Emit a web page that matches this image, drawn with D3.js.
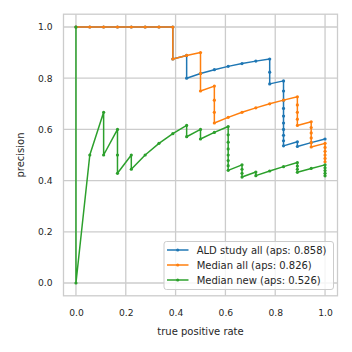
<!DOCTYPE html>
<html><head><meta charset="utf-8">
<script src="https://cdn.jsdelivr.net/npm/d3@7"></script>
<style>body{margin:0;background:#fff}svg{display:block}text{font-family:"DejaVu Sans",sans-serif;fill:#262626}</style>
</head><body>
<script>
const xTicks = [0, 0.2, 0.4, 0.6, 0.8, 1.0];
const yTicks = [0, 0.2, 0.4, 0.6, 0.8, 1.0];
const seriesNames = ["ALD study all (aps: 0.858)", "Median all (aps: 0.826)", "Median new (aps: 0.526)"];
const seriesColors = ["#1f77b4", "#ff7f0e", "#2ca02c"];

const aldRecall = [0,0.0556,0.1111,0.1667,0.2222,0.2778,0.3333,0.3889,0.3889,0.4444,0.4444,0.5,0.5556,0.6111,0.6667,0.7222,0.7778,0.7778,0.7778,
  0.8333,0.8333,0.8333,0.8333,0.8333,0.8333,0.8333,0.8333,0.8333,0.8333,0.8889,0.8889,0.9444,1.0];
const aldPrecision = [1,1,1,1,1,1,1,1,0.875,0.8889,0.8,0.8182,0.8333,0.8462,0.8571,0.8667,0.875,0.8235,0.7778,
  0.7895,0.75,0.7143,0.6818,0.6522,0.625,0.6,0.5769,0.5556,0.5357,0.5517,0.5333,0.5484,0.5625];

const medAllRecall = [0,0.0556,0.1111,0.1667,0.2222,0.2778,0.3333,0.3889,0.3889,0.4444,0.5,0.5,0.5,
  0.5556,0.5556,0.5556,0.5556,0.6111,0.6667,0.7222,0.7778,0.8333,
  0.8889,0.8889,0.8889,0.8889,0.8889,0.9444,0.9444,0.9444,0.9444,0.9444,0.9444,1,1,1,1,1,1];
const medAllPrecision = [1,1,1,1,1,1,1,1,0.875,0.8889,0.9,0.8182,0.75,
  0.7692,0.7143,0.6667,0.625,0.6471,0.6667,0.6842,0.7,0.7143,
  0.7273,0.6957,0.6667,0.64,0.6154,0.6296,0.6071,0.5862,0.5667,0.5484,0.5313,0.5455,0.5294,0.5143,0.5,0.4865,0.4737];

const medNewRecall = [0,0,0.0556,0.1111,0.1111,0.1667,0.1667,0.1667,0.2222,0.2222,0.2778,0.3333,0.3889,0.4444,0.4444,0.5,0.5,0.5556,
  0.6111,0.6111,0.6111,0.6111,0.6111,0.6111,0.6111,0.6111,0.6667,0.6667,0.6667,0.6667,0.7222,0.7222,0.7778,0.8333,
  0.8889,0.8889,0.8889,0.8889,0.9444,1,1,1,1,1];
const medNewPrecision = [1,0,0.5,0.6667,0.5,0.6,0.5,0.4286,0.5,0.4444,0.5,0.5455,0.5833,0.6154,0.5714,0.6,0.5625,0.5882,
  0.6111,0.5789,0.55,0.5238,0.5,0.4783,0.4583,0.44,0.4615,0.4444,0.4286,0.4138,0.4333,0.4194,0.4375,0.4545,
  0.4706,0.4571,0.4444,0.4324,0.4474,0.4615,0.45,0.439,0.4286,0.4186];

const series = [
  {name: seriesNames[0], color: seriesColors[0], x: aldRecall, y: aldPrecision},
  {name: seriesNames[1], color: seriesColors[1], x: medAllRecall, y: medAllPrecision},
  {name: seriesNames[2], color: seriesColors[2], x: medNewRecall, y: medNewPrecision}
];

const W = 352, H = 352;
const L = 63.5, R = 337.5, T = 14.2, B = 295.8;
const svg = d3.select("body").append("svg").attr("width", W).attr("height", H);
const x = d3.scaleLinear().domain([-0.05, 1.05]).range([L, R]);
const y = d3.scaleLinear().domain([-0.05, 1.05]).range([B, T]);

// grid
const grid = svg.append("g");
grid.selectAll("line.gx").data(xTicks).join("line")
  .attr("x1", d => x(d)).attr("x2", d => x(d)).attr("y1", T).attr("y2", B)
  .attr("stroke", "#cccccc").attr("stroke-width", 1.3);
grid.selectAll("line.gy").data(yTicks).join("line")
  .attr("y1", d => y(d)).attr("y2", d => y(d)).attr("x1", L).attr("x2", R)
  .attr("stroke", "#cccccc").attr("stroke-width", 1.3);

// axes via d3
const xAxis = svg.append("g").attr("transform", `translate(0,${B})`)
  .call(d3.axisBottom(x).tickValues(xTicks).tickFormat(d3.format(".1f")).tickSize(0).tickPadding(14));
const yAxis = svg.append("g").attr("transform", `translate(${L},0)`)
  .call(d3.axisLeft(y).tickValues(yTicks).tickFormat(d3.format(".1f")).tickSize(0).tickPadding(11));
[xAxis, yAxis].forEach(a => {
  a.select(".domain").remove();
  a.selectAll("text").attr("font-size", 9.2).attr("fill", "#262626").style("font-family", "DejaVu Sans");
});

// frame
svg.append("rect").attr("x", L).attr("y", T).attr("width", R - L).attr("height", B - T)
  .attr("fill", "none").attr("stroke", "#cccccc").attr("stroke-width", 1.3);

// lines
const line = d3.line().x(d => x(d[0])).y(d => y(d[1]));
series.forEach(s => {
  const pts = s.x.map((v, i) => [v, s.y[i]]);
  const g = svg.append("g");
  g.append("path").datum(pts).attr("d", line).attr("fill", "none")
    .attr("stroke", s.color).attr("stroke-width", 1.5).attr("stroke-linejoin", "round");
  g.selectAll("circle").data(pts).join("circle")
    .attr("cx", d => x(d[0])).attr("cy", d => y(d[1])).attr("r", 1.6).attr("fill", s.color);
});

// labels
svg.append("text").attr("x", (L + R) / 2).attr("y", 331.5).attr("text-anchor", "middle")
  .attr("dominant-baseline", "central").attr("font-size", 10).text("true positive rate");
svg.append("text").attr("transform", `translate(20,${(T + B) / 2}) rotate(-90)`).attr("text-anchor", "middle")
  .attr("dominant-baseline", "central").attr("font-size", 10).text("precision");

// legend
const lg = svg.append("g");
lg.append("rect").attr("x", 164).attr("y", 241.5).attr("width", 169.5).attr("height", 48)
  .attr("rx", 2.5).attr("fill", "white").attr("fill-opacity", 0.8).attr("stroke", "#cccccc").attr("stroke-width", 1);
series.forEach((s, i) => {
  const yy = 250 + i * 15;
  lg.append("line").attr("x1", 167).attr("x2", 188.5).attr("y1", yy).attr("y2", yy)
    .attr("stroke", s.color).attr("stroke-width", 1.5);
  lg.append("circle").attr("cx", 177.7).attr("cy", yy).attr("r", 1.6).attr("fill", s.color);
  lg.append("text").attr("x", 196.7).attr("y", yy).attr("dominant-baseline", "central")
    .attr("font-size", 10).text(s.name);
});
</script>
</body></html>
